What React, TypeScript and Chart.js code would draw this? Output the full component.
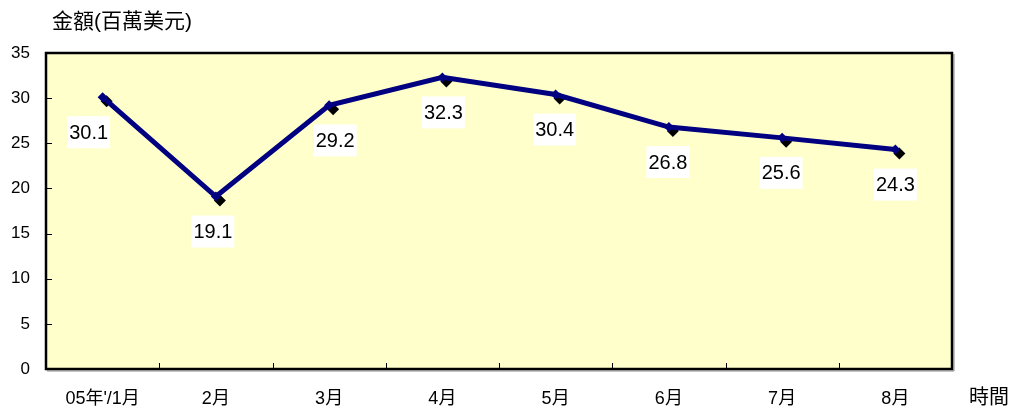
import React, { useEffect, useRef } from "react";
import { Chart, registerables } from "chart.js";

Chart.register(...registerables);

const categories = ["05年'/1月", "2月", "3月", "4月", "5月", "6月", "7月", "8月"];
const amounts = [30.1, 19.1, 29.2, 32.3, 30.4, 26.8, 25.6, 24.3];
const yTicks = [0, 5, 10, 15, 20, 25, 30, 35];
const yTitle = "金額(百萬美元)";
const xTitle = "時間";

const FONT = "'Liberation Sans', 'Noto Sans CJK TC', Arial, sans-serif";

const labelDx = [-14, -3, 6, 1, -1, -1, -1, 0];
const labelDy = 35;

const decor = {
  id: "decor",
  beforeDraw(chart: any) {
    const { ctx, chartArea: a } = chart;
    ctx.save();
    ctx.fillStyle = "#FFFFCC";
    ctx.fillRect(a.left, a.top, a.right - a.left, a.bottom - a.top);
    ctx.restore();
  },
  beforeDatasetsDraw(chart: any) {
    const { ctx, chartArea: a, scales } = chart;
    ctx.save();
    ctx.strokeStyle = "#000";
    ctx.lineWidth = 1;
    const ys = scales.y;
    yTicks.forEach((v) => {
      const y = Math.round(ys.getPixelForValue(v)) + 0.5;
      ctx.beginPath();
      ctx.moveTo(a.left, y);
      ctx.lineTo(a.left + 6, y);
      ctx.stroke();
    });
    const n = categories.length;
    const w = (a.right - a.left) / n;
    for (let i = 1; i < n; i++) {
      const x = Math.round(a.left + i * w) + 0.5;
      ctx.beginPath();
      ctx.moveTo(x, a.bottom);
      ctx.lineTo(x, a.bottom - 6);
      ctx.stroke();
    }
    ctx.strokeStyle = "#888";
    ctx.lineWidth = 1;
    ctx.beginPath();
    ctx.moveTo(a.right + 2, a.top + 1);
    ctx.lineTo(a.right + 2, a.bottom + 2);
    ctx.lineTo(a.left + 1, a.bottom + 2);
    ctx.stroke();
    ctx.strokeStyle = "#000";
    ctx.lineWidth = 2.5;
    ctx.strokeRect(a.left, a.top, a.right - a.left, a.bottom - a.top);
    const meta = chart.getDatasetMeta(0);
    ctx.fillStyle = "#000";
    meta.data.forEach((p: any) => {
      const cx = p.x + 4;
      const cy = p.y + 4;
      const r = 6;
      ctx.beginPath();
      ctx.moveTo(cx, cy - r);
      ctx.lineTo(cx + r, cy);
      ctx.lineTo(cx, cy + r);
      ctx.lineTo(cx - r, cy);
      ctx.closePath();
      ctx.fill();
    });
    ctx.restore();
  },
  afterDraw(chart: any) {
    const { ctx } = chart;
    const meta = chart.getDatasetMeta(0);
    ctx.save();
    ctx.font = `20px ${FONT}`;
    ctx.textAlign = "center";
    ctx.textBaseline = "middle";
    meta.data.forEach((p: any, i: number) => {
      const txt = amounts[i].toFixed(1);
      const cx = p.x + labelDx[i];
      const cy = p.y + labelDy;
      const tw = ctx.measureText(txt).width;
      ctx.fillStyle = "#FFFFFF";
      ctx.fillRect(cx - tw / 2 - 2, cy - 16, tw + 4, 32);
      ctx.fillStyle = "#000";
      ctx.fillText(txt, cx, cy + 1);
    });
    ctx.font = `21px ${FONT}`;
    ctx.textAlign = "left";
    ctx.textBaseline = "middle";
    ctx.fillText(yTitle, 52, 22);
    ctx.font = `20px ${FONT}`;
    ctx.fillText(xTitle, 969, 398);
    ctx.restore();
  },
};

export default function App() {
  const ref = useRef<HTMLCanvasElement>(null);
  useEffect(() => {
    if (!ref.current) return;
    const chart = new Chart(ref.current, {
      type: "line",
      data: {
        labels: categories,
        datasets: [
          {
            data: amounts,
            borderColor: "#000080",
            borderWidth: 5,
            pointStyle: "rectRot",
            pointRadius: 5,
            pointBackgroundColor: "#000080",
            pointBorderColor: "#000080",
            pointBorderWidth: 0,
            tension: 0,
            clip: false as any,
          },
        ],
      },
      options: {
        responsive: false,
        animation: false,
        devicePixelRatio: 1,
        layout: { padding: { left: 0, top: 53, right: 61, bottom: 0 } },
        plugins: {
          legend: { display: false },
          tooltip: { enabled: false },
          title: { display: false },
        },
        scales: {
          x: {
            type: "category",
            offset: true,
            grid: { display: false, drawTicks: false },
            border: { display: false },
            ticks: {
              color: "#000",
              font: { family: FONT, size: 18 },
              padding: 19,
              maxRotation: 0,
              autoSkip: false,
            },
            afterFit(scale: any) {
              scale.height = 41;
            },
          },
          y: {
            min: 0,
            max: 35,
            grid: { display: false, drawTicks: false },
            border: { display: false },
            ticks: {
              stepSize: 5,
              color: "#000",
              font: { family: FONT, size: 17 },
              padding: 16,
            },
            afterFit(scale: any) {
              scale.width = 46;
            },
          },
        },
      },
      plugins: [decor],
    });
    return () => chart.destroy();
  }, []);
  return (
    <div style={{ position: "absolute", left: 0, top: 0, width: 1013, height: 410 }}>
      <canvas ref={ref} width={1013} height={410} style={{ width: 1013, height: 410, display: "block" }} />
    </div>
  );
}
